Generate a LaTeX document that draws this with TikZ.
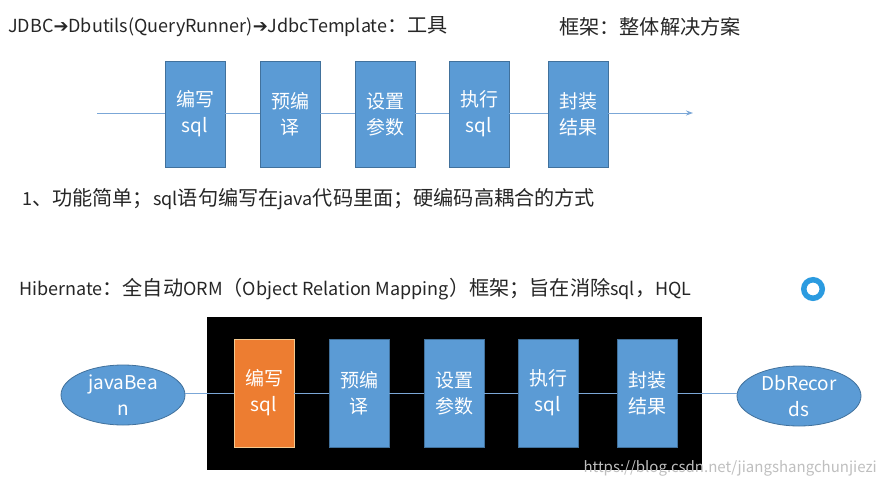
\documentclass[tikz,border=0pt]{standalone}
\usepackage{fontspec}
\setmainfont{Noto Sans CJK SC}
\newfontfamily\dejavu{DejaVu Sans}
\newfontfamily\zhsfont{Noto Sans CJK SC}[Scale=1.12]
\newcommand\zhs[1]{{\zhsfont #1}}
\usetikzlibrary{arrows.meta,shapes.geometric}
\definecolor{boxblue}{HTML}{5B9BD5}
\definecolor{boxedge}{HTML}{41719C}
\definecolor{boxorange}{HTML}{ED7D31}
\definecolor{orangeedge}{HTML}{F4C98F}
\definecolor{linkblue}{HTML}{7BA7D7}
\definecolor{ringblue}{HTML}{2B9BE0}
\begin{document}
\begin{tikzpicture}[x=1pt,y=-1pt,
  stepbox/.style={draw=boxedge, line width=0.8pt, fill=boxblue, minimum width=60pt,
    minimum height=106pt, text=white, font=\fontsize{19}{26}\selectfont, align=center, inner sep=0pt},
  orangebox/.style={stepbox, fill=boxorange, draw=orangeedge, minimum height=108pt},
  lowbox/.style={stepbox, minimum height=108pt},
  endpoint/.style={ellipse, draw=boxedge, line width=0.8pt, fill=boxblue, minimum width=124pt,
    minimum height=60pt, text=white, font=\fontsize{19}{26}\selectfont, align=center, inner sep=0pt},
  link/.style={draw=linkblue, line width=1pt},
  caption/.style={anchor=west, inner sep=0pt, font=\fontsize{18}{22}\selectfont, text=black!85}]
\useasboundingbox (0,0) rectangle (884,490);
\fill[white] (0,0) rectangle (884,490);

% headings
\node[caption] (h1) at (8,27) {JDBC{\dejavu ➔}Dbutils(QueryRunner){\dejavu ➔}JdbcTemplate\zhs{：工具}};
\node[caption] (h2) at (559,27) {\zhs{框架：整体解决方案}};
\node[caption] (h3) at (22,199) {1\zhs{、功能简单；}sql\zhs{语句编写在}java\zhs{代码里面；硬编码高耦合的方式}};
\node[caption] (h4) at (19,289) {Hibernate\zhs{：全自动}ORM\zhs{（}Object Relation Mapping\zhs{）框架；旨在消除}sql\zhs{，}HQL};

% ring icon
\node[circle, draw=ringblue, line width=5.5pt, minimum size=18.5pt, inner sep=0pt] (ring) at (813,289) {};

% top chain
\coordinate (tl) at (97,113);
\coordinate (tr) at (693,113);
\node[stepbox] (t1) at (195,114) {编写\\sql};
\node[stepbox] (t2) at (290,114) {预编\\译};
\node[stepbox] (t3) at (385,114) {设置\\参数};
\node[stepbox] (t4) at (479,114) {执行\\sql};
\node[stepbox] (t5) at (578,114) {封装\\结果};
\draw[link] (tl) -- (t1.west |- tl);
\draw[link] (t1.east |- tl) -- (t2.west |- tl);
\draw[link] (t2.east |- tl) -- (t3.west |- tl);
\draw[link] (t3.east |- tl) -- (t4.west |- tl);
\draw[link] (t4.east |- tl) -- (t5.west |- tl);
\draw[link, -{Stealth[length=7pt,width=5pt]}] (t5.east |- tl) -- (tr);

% bottom chain
\node[fill=black, minimum width=495pt, minimum height=153pt, inner sep=0pt] (frame) at (454.5,393.5) {};
\node[endpoint] (jb) at (123,395) {javaBea\\n};
\node[endpoint] (db) at (799,396) {DbRecor\\ds};
\coordinate (bl) at (0,393);
\node[orangebox] (b1) at (264,393) {编写\\sql};
\node[lowbox] (b2) at (359,393) {预编\\译};
\node[lowbox] (b3) at (454,393) {设置\\参数};
\node[lowbox] (b4) at (548,393) {执行\\sql};
\node[lowbox] (b5) at (647,393) {封装\\结果};
\draw[link] (jb.east |- bl) -- (b1.west |- bl);
\draw[link] (b1.east |- bl) -- (b2.west |- bl);
\draw[link] (b2.east |- bl) -- (b3.west |- bl);
\draw[link] (b3.east |- bl) -- (b4.west |- bl);
\draw[link] (b4.east |- bl) -- (b5.west |- bl);
\draw[link] (b5.east |- bl) -- (db.west |- bl);

% watermark
\node[anchor=east, inner sep=0pt, font=\fontsize{15}{18}\selectfont, text=black!25] (wm) at (877,468) {https://blog.csdn.net/jiangshangchunjiezi};
\end{tikzpicture}
\end{document}
